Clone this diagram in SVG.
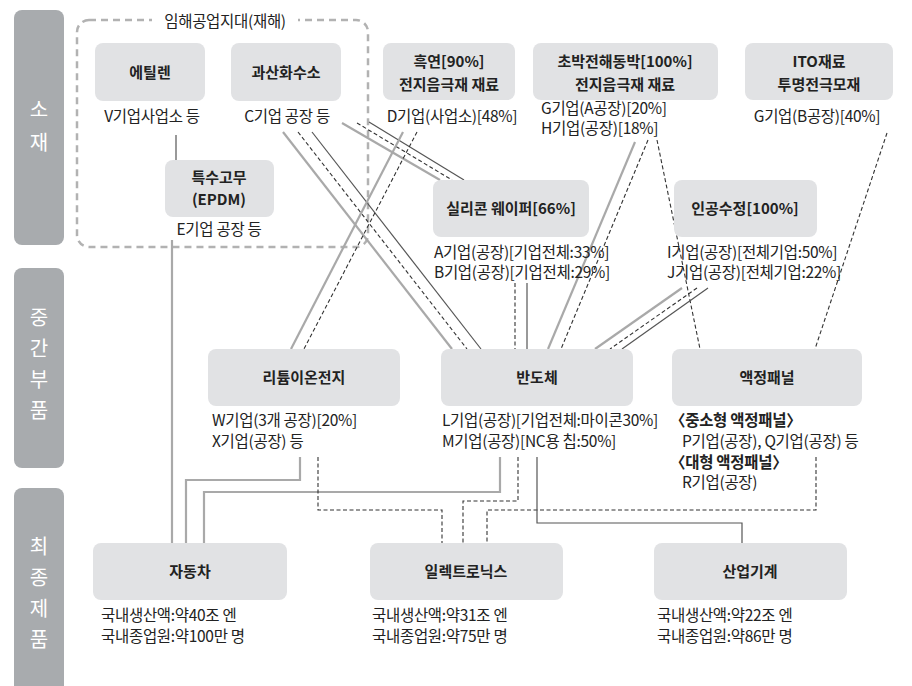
<svg xmlns="http://www.w3.org/2000/svg" width="912" height="686" viewBox="0 0 912 686">
<style>
text{font-family:"Noto Sans CJK KR","Noto Sans",sans-serif;fill:#222}
.side{fill:#a8abae}
.sidet{fill:#fff;font-size:20px;text-anchor:middle}
.box{fill:#e1e2e4}
.t{font-size:15px;font-weight:bold;text-anchor:middle}
.l{font-size:15.5px;letter-spacing:-0.3px}
.c{text-anchor:middle}
.b{font-weight:bold}
.region{fill:none;stroke:#b2b2b2;stroke-width:2.5;stroke-dasharray:7 5}
.g{fill:none;stroke:#a9a9a9;stroke-width:2.2}
.d{fill:none;stroke:#333;stroke-width:1.1;stroke-dasharray:4 2.5}
.k{fill:none;stroke:#555;stroke-width:1.2}
</style>
<rect width="912" height="686" fill="#fff"/>
<g id="side-labels">
<rect class="side" x="14" y="10" width="50" height="235" rx="8"/>
<text class="sidet" x="39" y="117">소</text>
<text class="sidet" x="39" y="150">재</text>
<rect class="side" x="14" y="268" width="50" height="200" rx="8"/>
<text class="sidet" x="39" y="325">중</text>
<text class="sidet" x="39" y="356">간</text>
<text class="sidet" x="39" y="387">부</text>
<text class="sidet" x="39" y="418">품</text>
<rect class="side" x="14" y="488" width="50" height="210" rx="8"/>
<text class="sidet" x="39" y="554">최</text>
<text class="sidet" x="39" y="585">종</text>
<text class="sidet" x="39" y="616">제</text>
<text class="sidet" x="39" y="647">품</text>
</g>
<g id="region">
<rect class="region" x="77" y="20" width="291" height="227" rx="12"/>
<rect x="152" y="10" width="146" height="22" fill="#fff"/>
<text class="l c" x="225" y="27">임해공업지대(재해)</text>
</g>
<g id="connectors">
<line class="k" x1="176" y1="135" x2="176" y2="160"/>
<line class="g" x1="172" y1="240" x2="172" y2="543"/>
<line class="g" x1="283" y1="132" x2="452" y2="349"/>
<line class="d" x1="298" y1="132" x2="467" y2="349"/>
<line class="k" x1="312" y1="132" x2="481" y2="349"/>
<line class="g" x1="342" y1="123" x2="440" y2="180"/>
<line class="d" x1="357" y1="123" x2="452" y2="180"/>
<line class="k" x1="369" y1="122" x2="464" y2="180"/>
<line class="g" x1="403" y1="132" x2="291" y2="349"/>
<line class="d" x1="417" y1="132" x2="304" y2="349"/>
<line class="d" x1="515" y1="283" x2="515" y2="349"/>
<line class="k" x1="527" y1="283" x2="527" y2="349"/>
<line class="g" x1="635" y1="142" x2="548" y2="349"/>
<line class="d" x1="648" y1="140" x2="561" y2="349"/>
<line class="d" x1="657" y1="140" x2="700" y2="349"/>
<line class="g" x1="682" y1="288" x2="595" y2="349"/>
<line class="d" x1="697" y1="288" x2="610" y2="349"/>
<line class="k" x1="708" y1="288" x2="622" y2="349"/>
<line class="d" x1="887" y1="133" x2="815" y2="349"/>
<polyline class="g" points="300,457 300,480 186,480 186,543"/>
<polyline class="g" points="500,457 500,492 204,492 204,543"/>
<polyline class="d" points="318,457 318,510 442,510 442,543"/>
<polyline class="d" points="518,457 518,501 463,501 463,543"/>
<polyline class="d" points="816,457 816,510 487,510 487,543"/>
<polyline class="k" points="537,457 537,523 742,523 742,543"/>
</g>
<g id="ethylene">
<rect class="box" x="95" y="43" width="110" height="58" rx="8"/>
<text class="t" x="150" y="78">에틸렌</text>
<text class="l c" x="152" y="122">V기업사업소 등</text>
</g>
<g id="hydrogen-peroxide">
<rect class="box" x="231" y="43" width="110" height="58" rx="8"/>
<text class="t" x="286" y="78">과산화수소</text>
<text class="l c" x="287" y="122">C기업 공장 등</text>
</g>
<g id="epdm">
<rect class="box" x="165" y="160" width="109" height="57" rx="8"/>
<text class="t" x="219" y="183">특수고무</text>
<text class="t" x="219" y="205">(EPDM)</text>
<text class="l c" x="219" y="235">E기업 공장 등</text>
</g>
<g id="graphite">
<rect class="box" x="383" y="43" width="132" height="57" rx="8"/>
<text class="t" x="449" y="67">흑연[90%]</text>
<text class="t" x="449" y="90">전지음극재 재료</text>
<text class="l c" x="452" y="122">D기업(사업소)[48%]</text>
</g>
<g id="copper-foil">
<rect class="box" x="533" y="43" width="185" height="57" rx="8"/>
<text class="t" x="625" y="67">초박전해동박[100%]</text>
<text class="t" x="625" y="90">전지음극재 재료</text>
<text class="l" x="541" y="114">G기업(A공장)[20%]</text>
<text class="l" x="541" y="134">H기업(공장)[18%]</text>
</g>
<g id="ito">
<rect class="box" x="745" y="43" width="148" height="57" rx="8"/>
<text class="t" x="819" y="67">ITO재료</text>
<text class="t" x="819" y="90">투명전극모재</text>
<text class="l c" x="817" y="122">G기업(B공장)[40%]</text>
</g>
<g id="silicon-wafer">
<rect class="box" x="433" y="180" width="156" height="57" rx="8"/>
<text class="t" x="511" y="214">실리콘 웨이퍼[66%]</text>
<text class="l" x="434" y="258">A기업(공장)[기업전체:33%]</text>
<text class="l" x="434" y="278">B기업(공장)[기업전체:29%]</text>
</g>
<g id="quartz">
<rect class="box" x="674" y="180" width="143" height="57" rx="8"/>
<text class="t" x="745" y="214">인공수정[100%]</text>
<text class="l" x="667" y="258">I기업(공장)[전체기업:50%]</text>
<text class="l" x="667" y="278">J기업(공장)[전체기업:22%]</text>
</g>
<g id="li-ion">
<rect class="box" x="208" y="349" width="192" height="57" rx="8"/>
<text class="t" x="304" y="383">리튬이온전지</text>
<text class="l" x="212" y="426">W기업(3개 공장)[20%]</text>
<text class="l" x="212" y="447">X기업(공장) 등</text>
</g>
<g id="semiconductor">
<rect class="box" x="441" y="349" width="192" height="57" rx="8"/>
<text class="t" x="537" y="383">반도체</text>
<text class="l" x="442" y="426">L기업(공장)[기업전체:마이콘30%]</text>
<text class="l" x="442" y="447">M기업(공장)[NC용 칩:50%]</text>
</g>
<g id="lcd">
<rect class="box" x="672" y="349" width="190" height="57" rx="8"/>
<text class="t" x="767" y="383">액정패널</text>
<text class="l b" x="670" y="426">〈중소형 액정패널〉</text>
<text class="l" x="682" y="447">P기업(공장), Q기업(공장) 등</text>
<text class="l b" x="670" y="468">〈대형 액정패널〉</text>
<text class="l" x="682" y="488">R기업(공장)</text>
</g>
<g id="automobile">
<rect class="box" x="93" y="543" width="194" height="57" rx="8"/>
<text class="t" x="190" y="577">자동차</text>
<text class="l" x="101" y="621">국내생산액:약40조 엔</text>
<text class="l" x="101" y="642">국내종업원:약100만 명</text>
</g>
<g id="electronics">
<rect class="box" x="370" y="543" width="193" height="57" rx="8"/>
<text class="t" x="466" y="577">일렉트로닉스</text>
<text class="l" x="372" y="621">국내생산액:약31조 엔</text>
<text class="l" x="372" y="642">국내종업원:약75만 명</text>
</g>
<g id="machinery">
<rect class="box" x="654" y="543" width="193" height="57" rx="8"/>
<text class="t" x="750" y="577">산업기계</text>
<text class="l" x="657" y="621">국내생산액:약22조 엔</text>
<text class="l" x="657" y="642">국내종업원:약86만 명</text>
</g>
</svg>
